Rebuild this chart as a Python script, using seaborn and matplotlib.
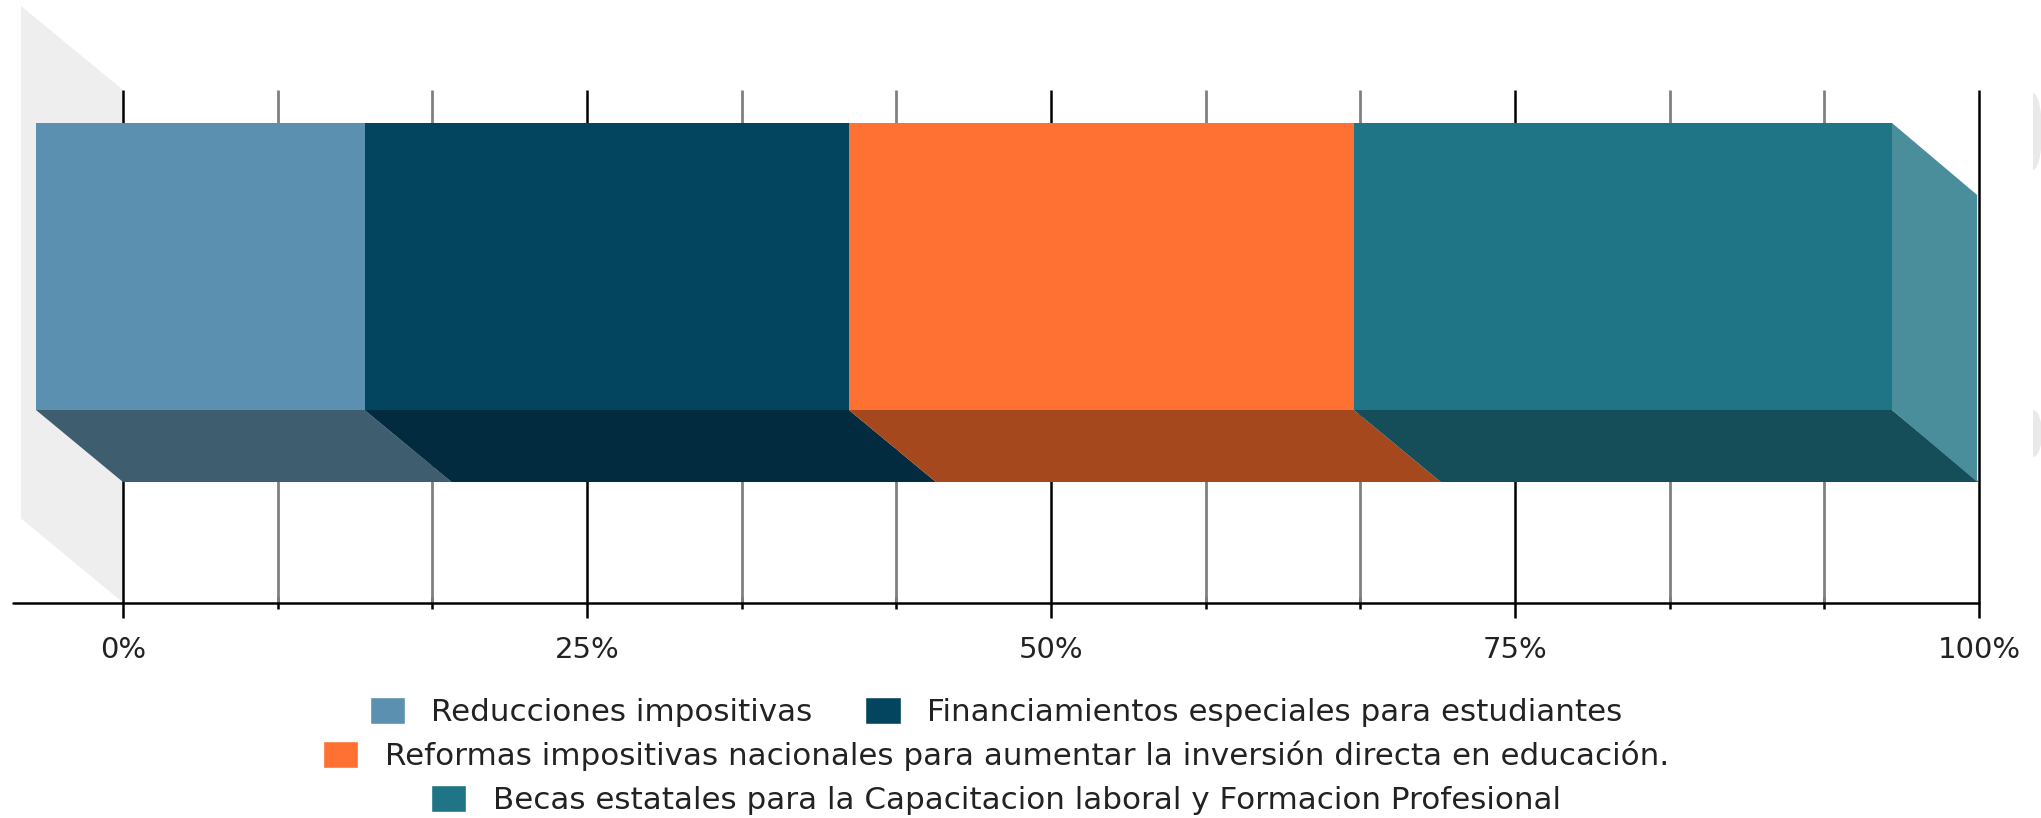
import numpy as np
import pandas as pd
import seaborn as sns
import matplotlib.pyplot as plt
from matplotlib.patches import Patch, Polygon

categories = ['Reducciones impositivas',
              'Financiamientos especiales para estudiantes',
              'Reformas impositivas nacionales para aumentar la inversión directa en educación.',
              'Becas estatales para la Capacitacion laboral y Formacion Profesional']
values = [17.7, 26.1, 27.2, 29.0]
front_colors = ['#5b90b0', '#03455f', '#ff7033', '#1f7485']
floor_colors = ['#3e5d6e', '#022b40', '#a5481d', '#154e58']
side_color = '#4a8e9c'
tick_values = [0, 25, 50, 75, 100]
tick_labels = ['0%', '25%', '50%', '75%', '100%']
minor_ticks = [100 * i / 12 for i in range(1, 12) if i % 3 != 0]
legend_rows = [[0, 1], [2], [3]]

W, H = 2041, 818
sns.set_theme(style='white', rc={'font.family': 'DejaVu Sans'})

fig = plt.figure(figsize=(W / 100, H / 100), dpi=100)
# plot area in pixels: x 123-1979, y 90-602
ax = fig.add_axes([123 / W, 1 - 602.5 / H, (1979 - 123) / W, (602.5 - 90) / H])

x_unit = 18.56              # px per percent
y_unit = 287                # px for the bar height
depth_x = 87 / x_unit       # 3d offset of the front face
depth_y = 72 / y_unit

starts = np.concatenate([[0], np.cumsum(values)[:-1]])
df = pd.DataFrame({'cat': categories, 'value': values, 'start': starts})

ymin, ymax = 0.5 + 192.5 / y_unit, -0.5 - 33 / y_unit

# back wall
wall_w = 102 / x_unit
wall_h = 84 / y_unit
ax.add_patch(Polygon([(-wall_w, ymax - wall_h), (0, ymax), (0, ymin), (-wall_w, ymin - wall_h)],
                     closed=True, color='#eeeeee', lw=0, clip_on=False, zorder=0))

# grid
for t in tick_values:
    ax.plot([t, t], [ymax, ymin], color='black', lw=1.8, zorder=1, solid_capstyle='butt', clip_on=False)
for t in minor_ticks:
    ax.plot([t, t], [ymax, ymin], color='#808080', lw=2.0, zorder=1, solid_capstyle='butt')

# front faces
for i, row in df.iterrows():
    sns.barplot(x=[row['value']], y=[0], orient='h', native_scale=True, width=1, ax=ax,
                left=row['start'] - depth_x, color=front_colors[i], saturation=1,
                linewidth=0, clip_on=False, zorder=3)
    # underside of the bar
    end = row['start'] + row['value']
    ax.add_patch(Polygon([(row['start'] - depth_x, 0.5), (end - depth_x, 0.5),
                          (end, 0.5 + depth_y), (row['start'], 0.5 + depth_y)],
                         closed=True, color=floor_colors[i], lw=0, zorder=2, clip_on=False))

# right end of the bar
ax.add_patch(Polygon([(100 - depth_x - 0.1, -0.5), (100 - depth_x, -0.5), (100 - 0.1, -0.5 + depth_y),
                      (100 - 0.1, 0.5 + depth_y), (100 - depth_x, 0.5), (100 - depth_x - 0.1, 0.5)],
                     closed=True, color=side_color, lw=0, zorder=2))

ax.set_xlim(0, 100)
ax.set_ylim(ymin, ymax)
ax.set_xlabel('')
ax.set_ylabel('')
ax.set_yticks([])
ax.set_xticks(tick_values)
ax.set_xticklabels(tick_labels, fontsize=21, color='#222222')
ax.set_xticks(minor_ticks, minor=True)
ax.tick_params(axis='x', which='major', bottom=True, length=11, width=1.8, color='black', pad=13)
ax.tick_params(axis='x', which='minor', bottom=True, direction='inout', length=9, width=1.8, color='black')
for s in ['top', 'left', 'right', 'bottom']:
    ax.spines[s].set_visible(False)
# axis line runs past the plot area on the left
ax.plot([-110 / x_unit, 100], [ymin, ymin], color='black', lw=1.8, clip_on=False, zorder=4)

# faint leftovers at the right edge of the picture
for y0, y1 in [(93, 170), (410, 457)]:
    t = np.linspace(-np.pi / 2, np.pi / 2, 40)
    px = 2033 + 9 * np.cos(t)
    py = (y0 + y1) / 2 + (y1 - y0) / 2 * np.sin(t)
    fig.add_artist(Polygon(np.column_stack([px / W, 1 - py / H]), closed=True, color='#e9e9e9',
                           lw=0, transform=fig.transFigure))

# legend, one centred block per row
for row, y_px in zip(legend_rows, [712, 756, 800]):
    handles = [Patch(facecolor=front_colors[i], label=categories[i]) for i in row]
    fig.legend(handles=handles, loc='center', bbox_to_anchor=(996 / W, 1 - y_px / H),
               ncol=len(row), frameon=False, fontsize=22.3, labelcolor='#222222',
               handlelength=1.14, handleheight=0.95, handletextpad=0.85, columnspacing=1.7,
               borderpad=0, borderaxespad=0)

fig.savefig('out.png', dpi=100)
